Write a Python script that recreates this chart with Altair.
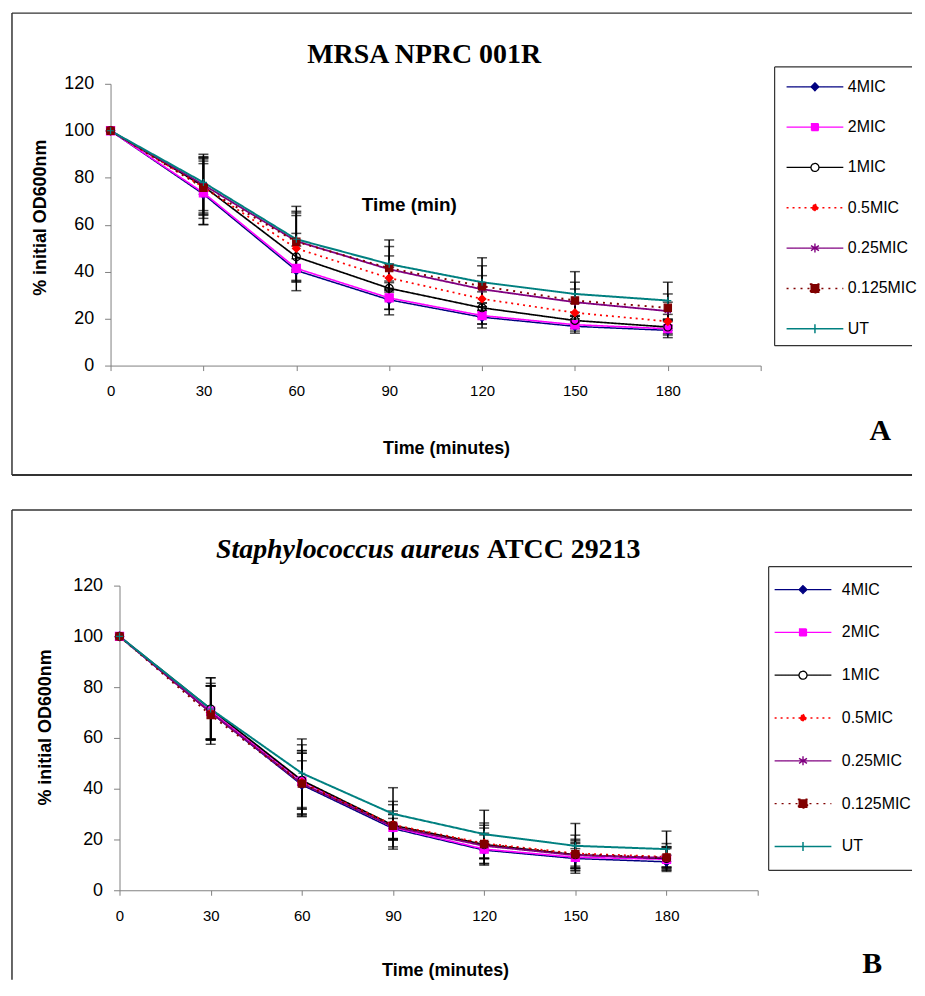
import altair as alt
import pandas as pd

TIMES = [0, 30, 60, 90, 120, 150, 180]
SERIES = ["4MIC", "2MIC", "1MIC", "0.5MIC", "0.25MIC", "0.125MIC", "UT"]
X_TICKS = [0, 30, 60, 90, 120, 150, 180, 210]
Y_TICKS = [0, 20, 40, 60, 80, 100, 120]

# ---- Panel A : MRSA NPRC 001R (mean % initial OD600nm) ----
A_4MIC = [100, 73.0, 40.5, 28.0, 20.6, 16.7, 15.0]
A_2MIC = [100, 73.6, 41.4, 28.8, 21.3, 17.4, 15.7]
A_1MIC = [100, 76.4, 46.3, 32.9, 24.6, 19.2, 16.4]
A_05MIC = [100, 76.0, 49.9, 37.3, 28.4, 22.5, 18.8]
A_025MIC = [100, 77.0, 53.0, 41.0, 32.5, 27.0, 23.2]
A_0125MIC = [100, 75.7, 52.7, 41.5, 33.8, 27.7, 24.6]
A_UT = [100, 78.0, 53.8, 43.2, 35.5, 30.5, 27.7]
# error bar half-widths
A_ERR_4MIC = [0, 13.0, 5.0, 4.0, 3.0, 2.0, 2.0]
A_ERR_2MIC = [0, 13.5, 9.5, 7.2, 5.3, 3.6, 3.8]
A_ERR_1MIC = [0, 12.0, 10.0, 9.0, 6.8, 3.5, 2.8]
A_ERR_05MIC = [0, 12.0, 14.0, 6.0, 5.0, 4.0, 3.0]
A_ERR_025MIC = [0, 12.0, 12.0, 5.7, 5.8, 5.6, 3.8]
A_ERR_0125MIC = [0, 13.0, 13.0, 9.2, 8.7, 7.8, 5.9]
A_ERR_UT = [0, 12.0, 14.0, 10.3, 10.4, 9.5, 7.8]

# ---- Panel B : Staphylococcus aureus ATCC 29213 ----
B_4MIC = [100, 70.0, 41.5, 24.3, 15.8, 12.5, 11.2]
B_2MIC = [100, 70.5, 43.0, 24.8, 16.2, 13.0, 12.2]
B_1MIC = [100, 71.4, 43.3, 25.6, 18.0, 14.0, 12.5]
B_05MIC = [100, 70.0, 42.5, 25.8, 18.5, 14.5, 13.2]
B_025MIC = [100, 70.0, 42.0, 25.0, 17.5, 13.8, 12.8]
B_0125MIC = [100, 69.0, 42.0, 25.4, 18.2, 14.2, 12.9]
B_UT = [100, 71.4, 46.1, 30.1, 22.1, 17.5, 16.2]
B_ERR_4MIC = [0, 10.5, 9.5, 4.0, 3.3, 3.9, 2.6]
B_ERR_2MIC = [0, 11.0, 11.0, 5.0, 5.6, 5.4, 4.2]
B_ERR_1MIC = [0, 12.3, 14.0, 9.4, 7.6, 6.1, 4.6]
B_ERR_05MIC = [0, 10.5, 12.5, 5.4, 6.0, 5.0, 4.0]
B_ERR_025MIC = [0, 10.5, 12.0, 5.0, 5.0, 5.0, 4.0]
B_ERR_0125MIC = [0, 11.5, 13.0, 8.3, 8.3, 7.5, 5.5]
B_ERR_UT = [0, 12.3, 13.5, 10.3, 9.4, 8.8, 7.1]

ANNOT_TIME = [96.5]
ANNOT_VALUE = [65.7]

# ---- styles ----
SANS = "Liberation Sans, Arial, sans-serif"
SERIF = "Liberation Serif, Times New Roman, serif"
LINE_COLORS = ["#000080", "#FF00FF", "#000000", "#FF0000", "#800080", "#800000", "#008080"]
LINE_DASH = [[1, 0], [1, 0], [1, 0], [2, 4], [1, 0], [2, 5], [1, 0]]
LINE_WIDTH = [1.5, 2, 1, 2, 1, 2, 1.5]
ASTERISK = "M0,-1V1M-0.87,-0.5L0.87,0.5M-0.87,0.5L0.87,-0.5"
PLUS = "M-1,0H1M0,-1V1"
POINT_SHAPES = ["diamond", "square", "circle", "diamond", ASTERISK, "square", PLUS]
POINT_FILL = ["#000080", "#FF00FF", "transparent", "#FF0000", "#800080", "#800000", "#008080"]
POINT_SIZE = [70, 50, 120, 64, 90, 90, 100]
LEGEND_PATHS = [
    "M0,0H5.7M2.85,-0.4L3.25,0L2.85,0.4L2.45,0Z",
    "M0,0H5.7M2.5,-0.35H3.2V0.35H2.5Z",
    "M0,0H2.45M3.25,0H5.7M2.45,0A0.4,0.4,0,1,0,3.25,0A0.4,0.4,0,1,0,2.45,0Z",
    "M0,0H5.7M2.85,-0.37L3.22,0L2.85,0.37L2.48,0Z",
    "M0,0H5.7M2.85,-0.45V0.45M2.45,-0.25L3.25,0.25M2.45,0.25L3.25,-0.25",
    "M0,0H5.7M2.4,-0.45H3.3V0.45H2.4Z",
    "M0,0H5.7M2.85,-0.45V0.45",
]
LEGEND_FILL = ["#000080", "#FF00FF", "white", "#FF0000", "#800080", "#800000", "#008080"]
LEGEND_WIDTH = [1.2, 1.5, 1, 2, 1, 2, 1.2]
FRAME = "#333333"


def make_df(values, errs):
    rows = []
    for s, vals, es in zip(SERIES, values, errs):
        for t, v, e in zip(TIMES, vals, es):
            rows.append({"series": s, "t": t, "v": v, "err": e, "lo": v - e, "hi": v + e})
    return pd.DataFrame(rows)


DF_A = make_df([A_4MIC, A_2MIC, A_1MIC, A_05MIC, A_025MIC, A_0125MIC, A_UT],
               [A_ERR_4MIC, A_ERR_2MIC, A_ERR_1MIC, A_ERR_05MIC, A_ERR_025MIC, A_ERR_0125MIC, A_ERR_UT])
DF_B = make_df([B_4MIC, B_2MIC, B_1MIC, B_05MIC, B_025MIC, B_0125MIC, B_UT],
               [B_ERR_4MIC, B_ERR_2MIC, B_ERR_1MIC, B_ERR_05MIC, B_ERR_025MIC, B_ERR_0125MIC, B_ERR_UT])
ONE = pd.DataFrame({"k": [0]})


def rule(x1, y1, x2, y2, width=1.5, color=FRAME, opacity=1):
    return alt.Chart(ONE).mark_rule(color=color, strokeWidth=width, strokeOpacity=opacity).encode(
        x=alt.value(x1), y=alt.value(y1), x2=alt.value(x2), y2=alt.value(y2))


def label(x, y, s, **kw):
    return alt.Chart(ONE).mark_text(text=s, baseline="alphabetic", color="black", **kw).encode(
        x=alt.value(x), y=alt.value(y))


def sc(rng):
    return alt.Scale(domain=SERIES, range=rng)


def panel(df, W, H, xrange, yrange, yoffset, xt, yt, lx, ly, rowpad, loff, extras, annot=False):
    xaxis = alt.Axis(values=X_TICKS, labelExpr="datum.value == 210 ? '' : datum.label",
                     title="Time (minutes)", titleX=xt[0], titleY=xt[1],
                     titleBaseline="alphabetic", tickSize=5, labelPadding=13,
                     labelFontSize=15, labelFlush=False)
    yaxis = alt.Axis(values=Y_TICKS, title="% initial OD600nm", titleX=yt[0], titleY=yt[1],
                     titleBaseline="alphabetic", titleAngle=270, tickSize=6, labelPadding=11,
                     labelFontSize=18, offset=yoffset)
    xs = alt.Scale(domain=[0, 210], nice=False, zero=False, range=xrange)
    ys = alt.Scale(domain=[0, 120], nice=False, range=yrange)
    X = alt.X("t:Q", scale=xs, axis=xaxis)

    def Y(f):
        return alt.Y(f, scale=ys, axis=yaxis)

    base = alt.Chart(df)
    eb = base.transform_filter("datum.err > 0")
    bars = eb.mark_rule(color="black", strokeWidth=1.5).encode(x=X, y=Y("lo:Q"), y2="hi:Q")
    cap_hi = eb.mark_tick(orient="horizontal", size=10, thickness=1.5, color="black").encode(x=X, y=Y("hi:Q"))
    cap_lo = eb.mark_tick(orient="horizontal", size=10, thickness=1.5, color="black").encode(x=X, y=Y("lo:Q"))
    lines = base.mark_line().encode(
        x=X, y=Y("v:Q"),
        stroke=alt.Stroke("series:N", scale=sc(LINE_COLORS), legend=None),
        strokeDash=alt.StrokeDash("series:N", scale=sc(LINE_DASH), legend=None),
        strokeWidth=alt.StrokeWidth("series:N", scale=sc(LINE_WIDTH), legend=None),
    )
    pts = base.mark_point(opacity=1, strokeWidth=1.2).encode(
        x=X, y=Y("v:Q"),
        shape=alt.Shape("series:N", scale=sc(POINT_SHAPES), legend=None),
        fill=alt.Fill("series:N", scale=sc(POINT_FILL), legend=None),
        stroke=alt.Stroke("series:N", scale=sc(LINE_COLORS), legend=None),
        size=alt.Size("series:N", scale=sc(POINT_SIZE), legend=None),
    )
    leg = alt.Legend(title=None, orient="none", legendX=lx, legendY=ly, padding=0,
                     symbolSize=400, symbolOffset=-11, labelOffset=loff, labelFont=SANS,
                     labelFontSize=16, labelColor="black", rowPadding=rowpad,
                     labelLimit=0, symbolLimit=0)
    legend_layer = base.transform_filter("datum.t < 0").mark_point(opacity=1, filled=True).encode(
        x=X, y=Y("v:Q"),
        shape=alt.Shape("series:N", scale=sc(LEGEND_PATHS), legend=leg),
        fill=alt.Fill("series:N", scale=sc(LEGEND_FILL), legend=leg),
        stroke=alt.Stroke("series:N", scale=sc(LINE_COLORS), legend=leg),
        strokeDash=alt.StrokeDash("series:N", scale=sc(LINE_DASH), legend=leg),
        strokeWidth=alt.StrokeWidth("series:N", scale=sc(LEGEND_WIDTH), legend=leg),
    )
    layers = [bars, cap_hi, cap_lo, lines, pts, legend_layer]
    if annot:
        ann = alt.Chart(pd.DataFrame({"t": ANNOT_TIME, "v": ANNOT_VALUE})).mark_text(
            text="Time (min)", font=SANS, fontSize=19, fontWeight="bold",
            baseline="alphabetic", color="black").encode(x=X, y=Y("v:Q"))
        layers.append(ann)
    layers += extras
    return alt.layer(*layers).resolve_scale(
        shape="independent", fill="independent", stroke="independent",
        strokeDash="independent", strokeWidth="independent", size="independent"
    ).properties(width=W, height=H)


BOTTOM = 396  # common bottom extent of both panels (relative to plot top)
RIGHT = 805   # right end of the frame lines (page x ~915)

# Panel A: group origin at page (110, 89); 120 -> page y 84, 0 -> page y 367
extras_a = [
    rule(-99, -76, -99, 388), rule(-99, -76, RIGHT, -76), rule(-99, 388, RIGHT, 388, width=2),
    rule(-99, 388, -99, BOTTOM, opacity=0),
    rule(667, -22, 667, 258, width=1.2), rule(667, -22, RIGHT, -22, width=1.2),
    rule(667, 258, RIGHT, 258, width=1.2),
    label(315, -26, "MRSA NPRC 001R", font=SERIF, fontSize=28, fontWeight="bold", align="center"),
    label(773, 353, "A", font=SERIF, fontSize=30, fontWeight="bold", align="center"),
]
panel_a = panel(DF_A, 653, 278, [0, 653], [278, -5], 0, (337, 88), (-65, 129),
                679, -13, 21.5, 50.5, extras_a, annot=True)

# Panel B: group origin at page (110, 586); axis at x=119
extras_b = [
    rule(-99, -76, -99, BOTTOM), rule(-99, -76, RIGHT, -76),
    rule(661, -19, 661, 286, width=1.2), rule(661, -19, RIGHT, -19, width=1.2),
    rule(661, 286, RIGHT, 286, width=1.2),
    label(371, -28, "Staphylococcus aureus", font=SERIF, fontSize=28, fontWeight="bold",
          fontStyle="italic", align="right"),
    label(378, -28, "ATCC 29213", font=SERIF, fontSize=28, fontWeight="bold", align="left"),
    label(765, 389, "B", font=SERIF, fontSize=30, fontWeight="bold", align="center"),
]
panel_b = panel(DF_B, 653, 306, [9, 650], [306, 0], -9, (336, 86), (-69, 142),
                667, -7, 24, 56.5, extras_b)

chart = alt.vconcat(panel_a, panel_b, spacing=26).properties(
    padding={"left": 3, "top": 2, "right": 0, "bottom": 0},
    background="white",
).configure_view(stroke=None).configure_axis(
    grid=False, labelFont=SANS, titleFont=SANS, labelColor="black", titleColor="black",
    titleFontSize=18, titleFontWeight="bold", domainColor="#808080", tickColor="#808080",
    domainWidth=1, tickWidth=1,
)

chart.save("out.html", embed_options={"renderer": "svg", "actions": False})
